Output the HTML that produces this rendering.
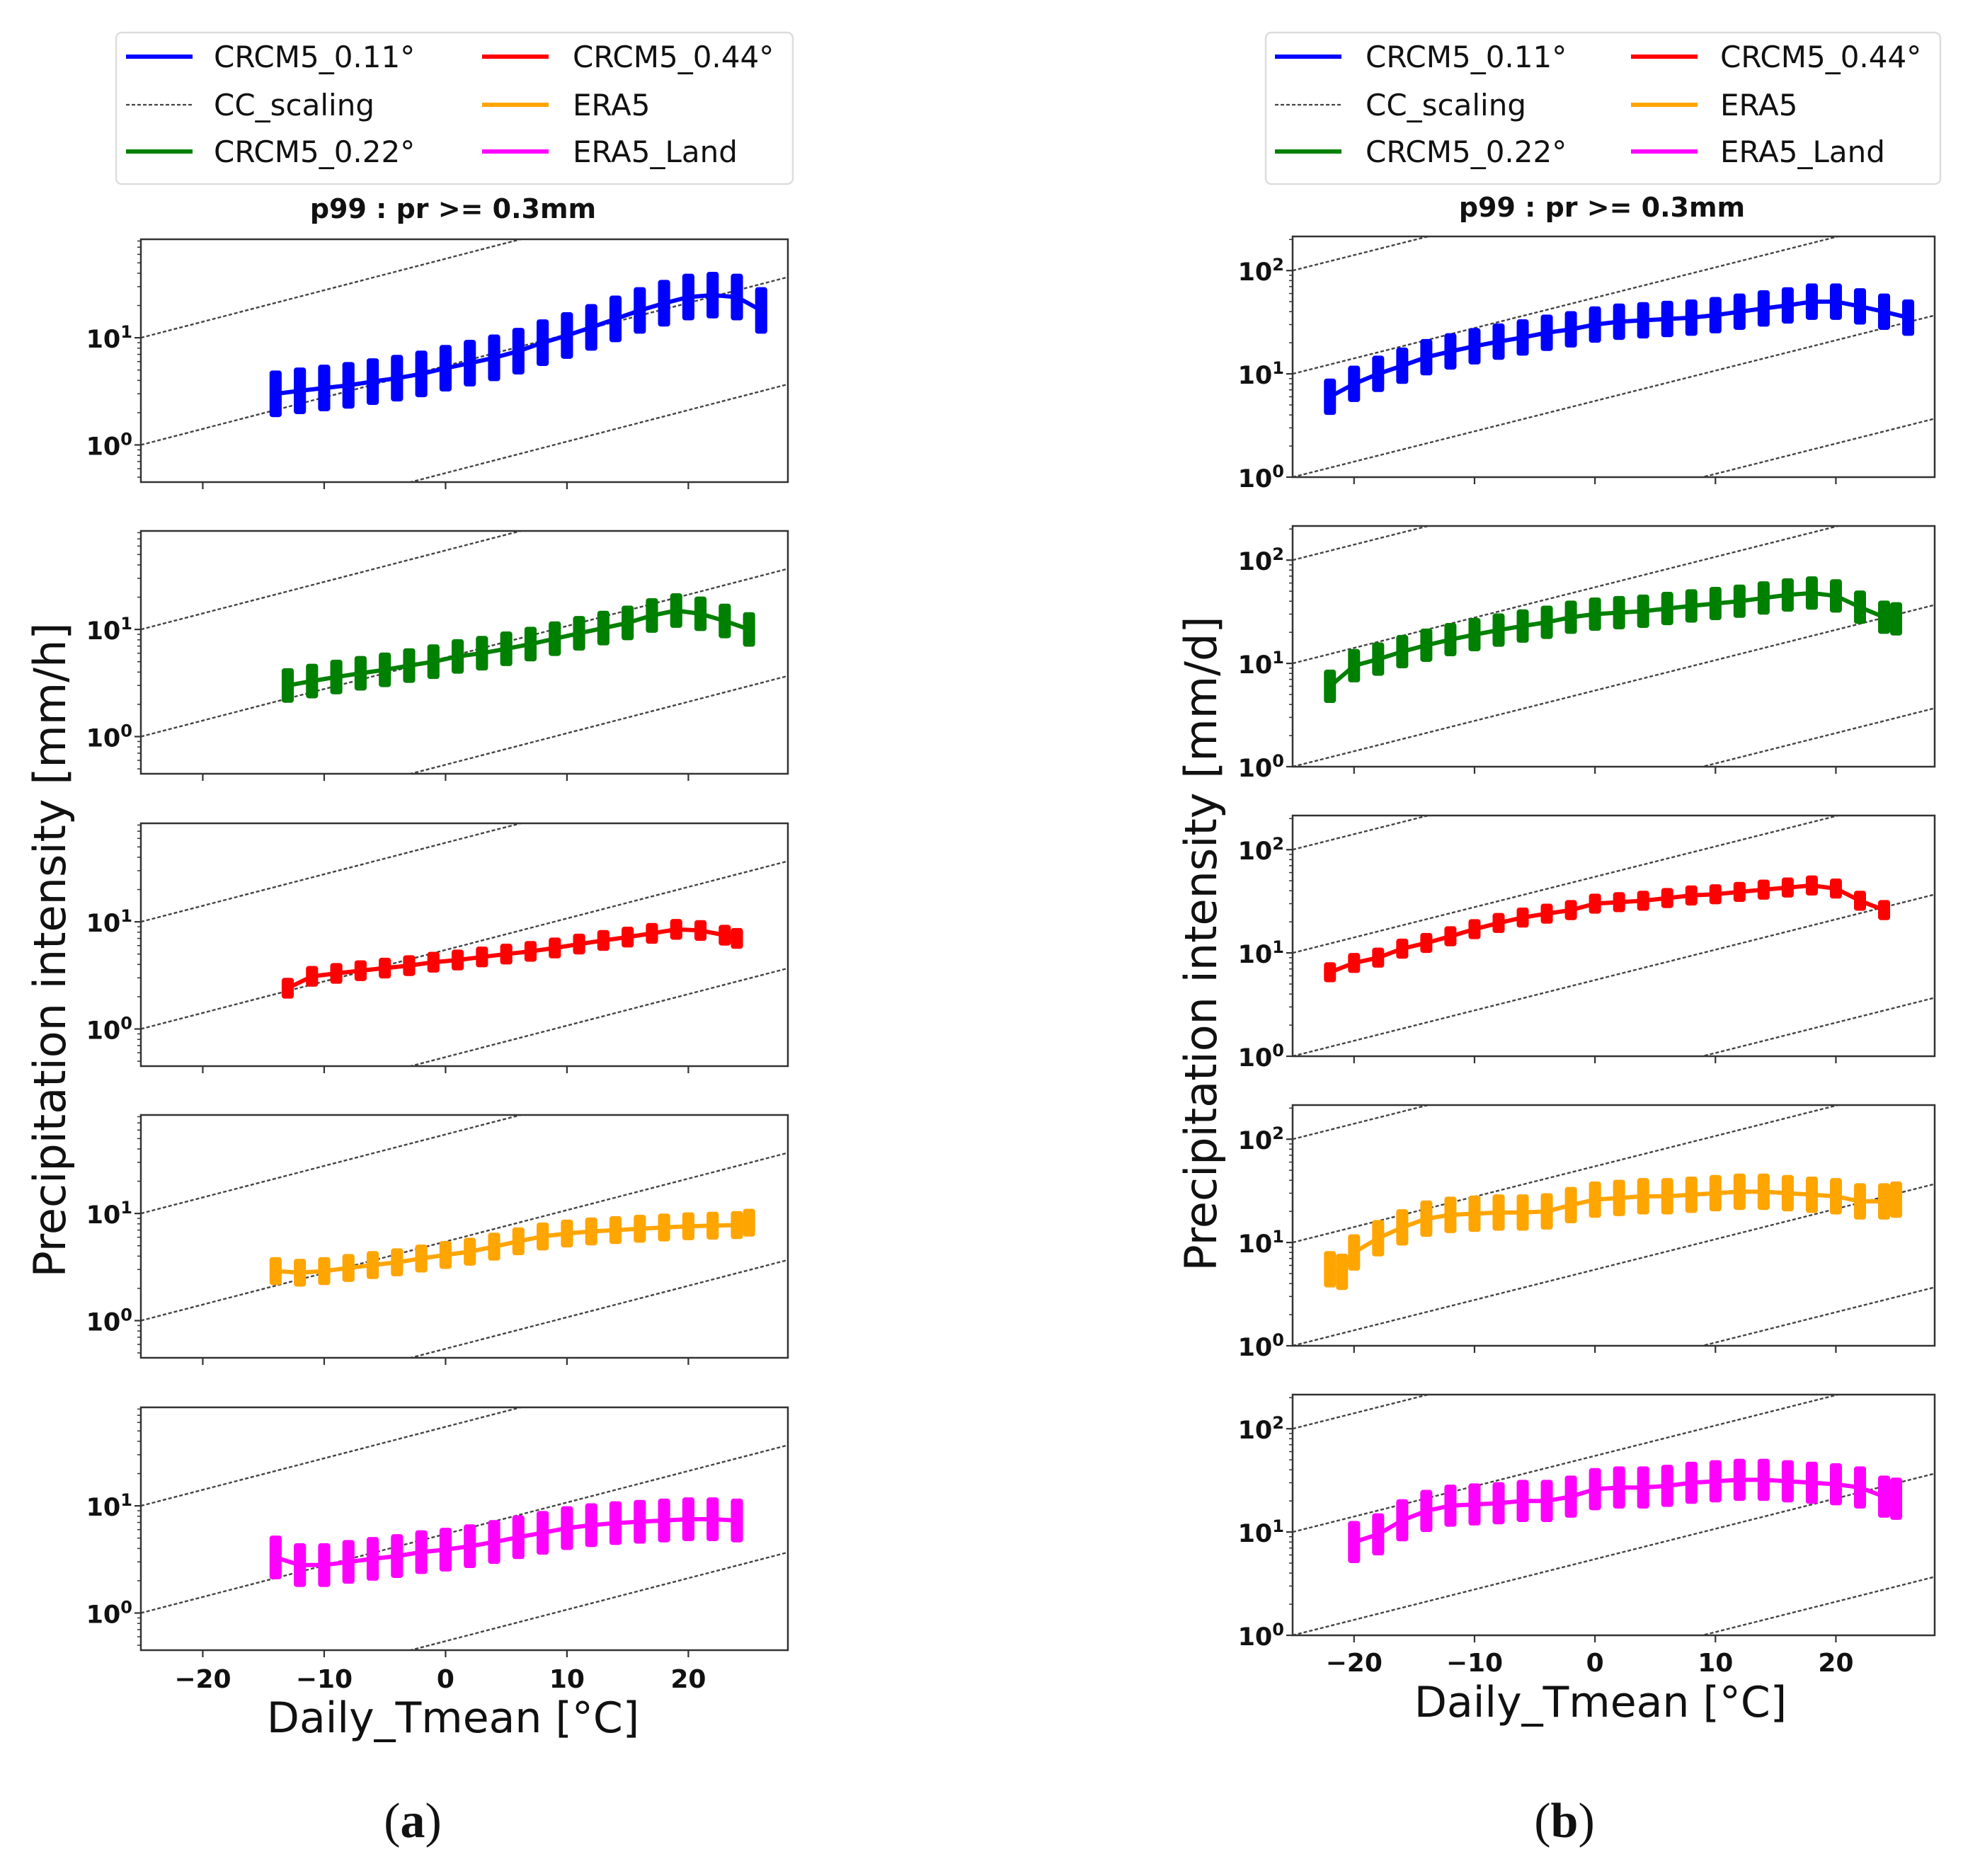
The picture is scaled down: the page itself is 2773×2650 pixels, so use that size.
<!DOCTYPE html>
<html><head><meta charset="utf-8">
<style>
html,body{margin:0;padding:0;background:#fff;}
svg{display:block;}
text{font-family:"DejaVu Sans","Liberation Sans",sans-serif;}
text.serif{font-family:"Liberation Serif",serif;}
</style></head>
<body>
<svg id="fig" width="2773" height="2650" viewBox="0 0 2773 2650" xmlns="http://www.w3.org/2000/svg"></svg>
<script>
// ---------- data (panel a: mm/h, panel b: mm/d) ----------
const seriesNames = ["CRCM5_0.11°","CRCM5_0.22°","CRCM5_0.44°","ERA5","ERA5_Land"];
const seriesColors = ["#0000ff","#008000","#ff0000","#ffa500","#ff00ff"];
const xTicks = [-20,-10,0,10,20];
// Panel a
const aBlueT = [-14,-12,-10,-8,-6,-4,-2,0,2,4,6,8,10,12,14,16,18,20,22,24,26];
const aBlueV = [3,3.2,3.4,3.6,3.9,4.2,4.6,5.2,5.8,6.5,7.5,9,10.5,12.5,15,18,21,24,25,24,18];
const aGreenT = [-13,-11,-9,-7,-5,-3,-1,1,3,5,7,9,11,13,15,17,19,21,23,25];
const aGreenV = [3,3.3,3.6,3.9,4.2,4.6,5,5.6,6,6.6,7.3,8.2,9.2,10.3,11.5,13.5,15,14,12,10];
const aRedT = [-13,-11,-9,-7,-5,-3,-1,1,3,5,7,9,11,13,15,17,19,21,23,24];
const aRedV = [2.4,3.1,3.3,3.5,3.7,3.9,4.2,4.4,4.7,5,5.3,5.7,6.2,6.7,7.2,7.8,8.5,8.3,7.5,7];
const aOrangeT = [-14,-12,-10,-8,-6,-4,-2,0,2,4,6,8,10,12,14,16,18,20,22,24,25];
const aOrangeV = [2.9,2.8,2.9,3.1,3.3,3.5,3.8,4.1,4.4,4.9,5.5,6.1,6.5,6.8,7,7.2,7.4,7.6,7.7,7.8,8.2];
const aMagT = [-14,-12,-10,-8,-6,-4,-2,0,2,4,6,8,10,12,14,16,18,20,22,24];
const aMagV = [3.3,2.8,2.8,3,3.2,3.4,3.7,3.9,4.2,4.6,5.1,5.6,6.2,6.6,6.9,7.1,7.3,7.5,7.5,7.3];
const aSpread = [1.65,1.45,1.25,1.35,1.6];
// Panel b
const bBlueT = [-22,-20,-18,-16,-14,-12,-10,-8,-6,-4,-2,0,2,4,6,8,10,12,14,16,18,20,22,24,26];
const bBlueV = [6,8,10,12,14.5,16.5,18.5,20.5,22.5,25,27,30,32,33,34,35,37,40,43,46,50,50,45,40,35];
const bGreenT = [-22,-20,-18,-16,-14,-12,-10,-8,-6,-4,-2,0,2,4,6,8,10,12,14,16,18,20,22,24,25];
const bGreenV = [6,9.5,11,13,15,17,19,21,23,25,28,30,31,32,34,36,38,40,43,46,48,45,35,28,27];
const bRedT = [-22,-20,-18,-16,-14,-12,-10,-8,-6,-4,-2,0,2,4,6,8,10,12,14,16,18,20,22,24];
const bRedV = [6.5,8,9,11,12.5,14.5,17,19.5,22,24,26,30,31,32,34,36,37,39,41,43,45,42,32,26];
const bOrangeT = [-22,-21,-20,-18,-16,-14,-12,-10,-8,-6,-4,-2,0,2,4,6,8,10,12,14,16,18,20,22,24,25];
const bOrangeV = [5.5,5.2,8,11,14,17,18.5,19,19.5,19.5,20,23,26,27,28,28,29,30,31,31,30,29,28,25,25,26];
const bMagT = [-20,-18,-16,-14,-12,-10,-8,-6,-4,-2,0,2,4,6,8,10,12,14,16,18,20,22,24,25];
const bMagV = [8,9.5,13,16,18,18.5,19,20,20,22,26,27,27,28,30,31,32,32,31,30,29,27,22,21];
const bSpread = [1.5,1.45,1.25,1.5,1.6];
const ccSlope = Math.log10(1.07);   // CC scaling 7%/°C
const ccOffsetsA = [-2,-1,0,1,2];
const ccOffsetsB = [-2,-1,0,1,2,3];

// ---------- layout ----------
const NS = "http://www.w3.org/2000/svg";
const svg = document.getElementById("fig");
function el(tag, attrs, parent){
  const e = document.createElementNS(NS, tag);
  for (const k in attrs) e.setAttribute(k, attrs[k]);
  (parent||svg).appendChild(e);
  return e;
}
const XMIN=-25.1, XMAX=28.2;

function drawPanelSet(cfg){
  const {left,right,tops,height,ymin,ymax,decades,Ts,Vs,spread,cc,prefix,showBottom} = cfg;
  const xs = v => left + (v-XMIN)/(XMAX-XMIN)*(right-left);
  tops.forEach((top,pi)=>{
    const ys = v => top + height - (Math.log10(v)-Math.log10(ymin))/(Math.log10(ymax)-Math.log10(ymin))*height;
    const g = el("g",{});
    
    
    const cid = prefix+"clip"+pi;
    const cp = el("clipPath",{id:cid},g);
    el("rect",{x:left,y:top,width:right-left,height:height},cp);
    const ccg = el("g",{"clip-path":"url(#"+cid+")"},g);
    cc.forEach(k=>{
      const y0 = Math.pow(10, k);
      const y1 = Math.pow(10, k + ccSlope*(XMAX-XMIN));
      const ln = el("line",{x1:xs(XMIN),y1:ys(y0),x2:xs(XMAX),y2:ys(y1),stroke:"#444","stroke-width":2.4,"stroke-dasharray":"5,3"},ccg);
      
      
    });
    const T = Ts[pi], V = Vs[pi], sp = spread[pi], col = seriesColors[pi];
    const sg = el("g",{"clip-path":"url(#"+cid+")"},g);
    T.forEach((t,i)=>{
      const hi = V[i]*sp, lo = V[i]/sp;
      const r = el("rect",{x:xs(t-0.5),y:ys(hi),width:xs(t+0.5)-xs(t-0.5),height:ys(lo)-ys(hi),fill:col,rx:4},sg);
      
      
    });
    const pts = T.map((t,i)=>xs(t).toFixed(1)+","+ys(V[i]).toFixed(1)).join(" ");
    const pl = el("polyline",{points:pts,fill:"none",stroke:col,"stroke-width":6,"stroke-linejoin":"round"},sg);
    
    
    const fr = el("rect",{x:left,y:top,width:right-left,height:height,fill:"none",stroke:"#333","stroke-width":2.5},g);
    
    
    for (let d=Math.floor(Math.log10(ymin)); d<=Math.ceil(Math.log10(ymax)); d++){
      for (let m=1;m<10;m++){
        const v = m*Math.pow(10,d);
        if (v<ymin*0.999 || v>ymax*1.001) continue;
        const y = ys(v);
        el("line",{x1:left-(m===1?9:5),y1:y,x2:left,y2:y,stroke:"#333","stroke-width":m===1?2.2:1.5},g);
      }
    }
    decades.forEach(d=>{
      const y = ys(Math.pow(10,d));
      const t = el("text",{x:left-12,y:y+14,"text-anchor":"end","font-size":35,"font-weight":"bold",fill:"#111"},g);
      
      
      t.innerHTML = '10<tspan dy="-14" font-size="24">'+d+'</tspan>';
    });
    xTicks.forEach(v=>{
      el("line",{x1:xs(v),y1:top+height,x2:xs(v),y2:top+height+10,stroke:"#333","stroke-width":2.2},g);
      if (pi===tops.length-1){
        const t = el("text",{x:xs(v),y:showBottom,"text-anchor":"middle","font-size":36,"font-weight":"bold",fill:"#111"},g);
        
        
        t.textContent = (v<0?"\u2212"+(-v):String(v));
      }
    });
  });
}

drawPanelSet({left:199,right:1113,tops:[338,750,1163,1575,1988],height:343,ymin:0.45,ymax:83,decades:[0,1],
  Ts:[aBlueT,aGreenT,aRedT,aOrangeT,aMagT],Vs:[aBlueV,aGreenV,aRedV,aOrangeV,aMagV],spread:aSpread,cc:ccOffsetsA,prefix:"a",showBottom:2384});
drawPanelSet({left:1826,right:2733,tops:[334,743,1152,1561,1970],height:340,ymin:1,ymax:214,decades:[0,1,2],
  Ts:[bBlueT,bGreenT,bRedT,bOrangeT,bMagT],Vs:[bBlueV,bGreenV,bRedV,bOrangeV,bMagV],spread:bSpread,cc:ccOffsetsB,prefix:"b",showBottom:2361});

// ---------- legends ----------
function legend(x0,y0,w,h,hx,tx,hx2,tx2,prefix){
  const g = el("g",{});
  
  
  el("rect",{x:x0,y:y0,width:w,height:h,rx:8,fill:"#fff",stroke:"#ddd","stroke-width":2.5},g);
  const rows=[80,148,214];
  const items=[[0,"CRCM5_0.11°",0,0],[null,"CC_scaling",0,1],[1,"CRCM5_0.22°",0,2],[2,"CRCM5_0.44°",1,0],[3,"ERA5",1,1],[4,"ERA5_Land",1,2]];
  items.forEach(([ci,label,col,row])=>{
    const hX = col? hx2:hx, tX = col? tx2:tx, y = rows[row];
    const ent = el("g",{},g);
    
    
    if (ci===null) el("line",{x1:hX,y1:y,x2:hX+94,y2:y,stroke:"#444","stroke-width":2.2,"stroke-dasharray":"5,3"},ent);
    else el("line",{x1:hX,y1:y,x2:hX+94,y2:y,stroke:seriesColors[ci],"stroke-width":6},ent);
    const t = el("text",{x:tX,y:y+15,"font-size":42,fill:"#111"},ent);
    t.textContent = label;
  });
}
legend(164,46,956,214,178,302,681,809,"a");
legend(1788,46,953,214,1801,1929,2304,2430,"b");

// ---------- titles and labels ----------
function txt(x,y,s,attrs,name){
  const t = el("text",Object.assign({x:x,y:y,"text-anchor":"middle",fill:"#111"},attrs));
  
  
  t.textContent = s;
  return t;
}
txt(640,308,"p99 : pr >= 0.3mm",{"font-size":38,"font-weight":"bold"},"a-title");
txt(2263,306,"p99 : pr >= 0.3mm",{"font-size":38,"font-weight":"bold"},"b-title");
txt(640,2447,"Daily_Tmean [°C]",{"font-size":60},"a-x-axis-title");
txt(2261,2425,"Daily_Tmean [°C]",{"font-size":60},"b-x-axis-title");
txt(0,0,"Precipitation intensity [mm/h]",{"font-size":62,transform:"translate(92,1342) rotate(-90)"},"a-y-axis-title");
txt(0,0,"Precipitation intensity [mm/d]",{"font-size":62,transform:"translate(1718,1333) rotate(-90)"},"b-y-axis-title");
const la = txt(583,2595,"",{"font-size":70,"class":"serif"},"a-panel-label");
la.innerHTML='(<tspan font-weight="bold">a</tspan>)';
const lb = txt(2210,2595,"",{"font-size":70,"class":"serif"},"b-panel-label");
lb.innerHTML='(<tspan font-weight="bold">b</tspan>)';
</script>
</body></html>
